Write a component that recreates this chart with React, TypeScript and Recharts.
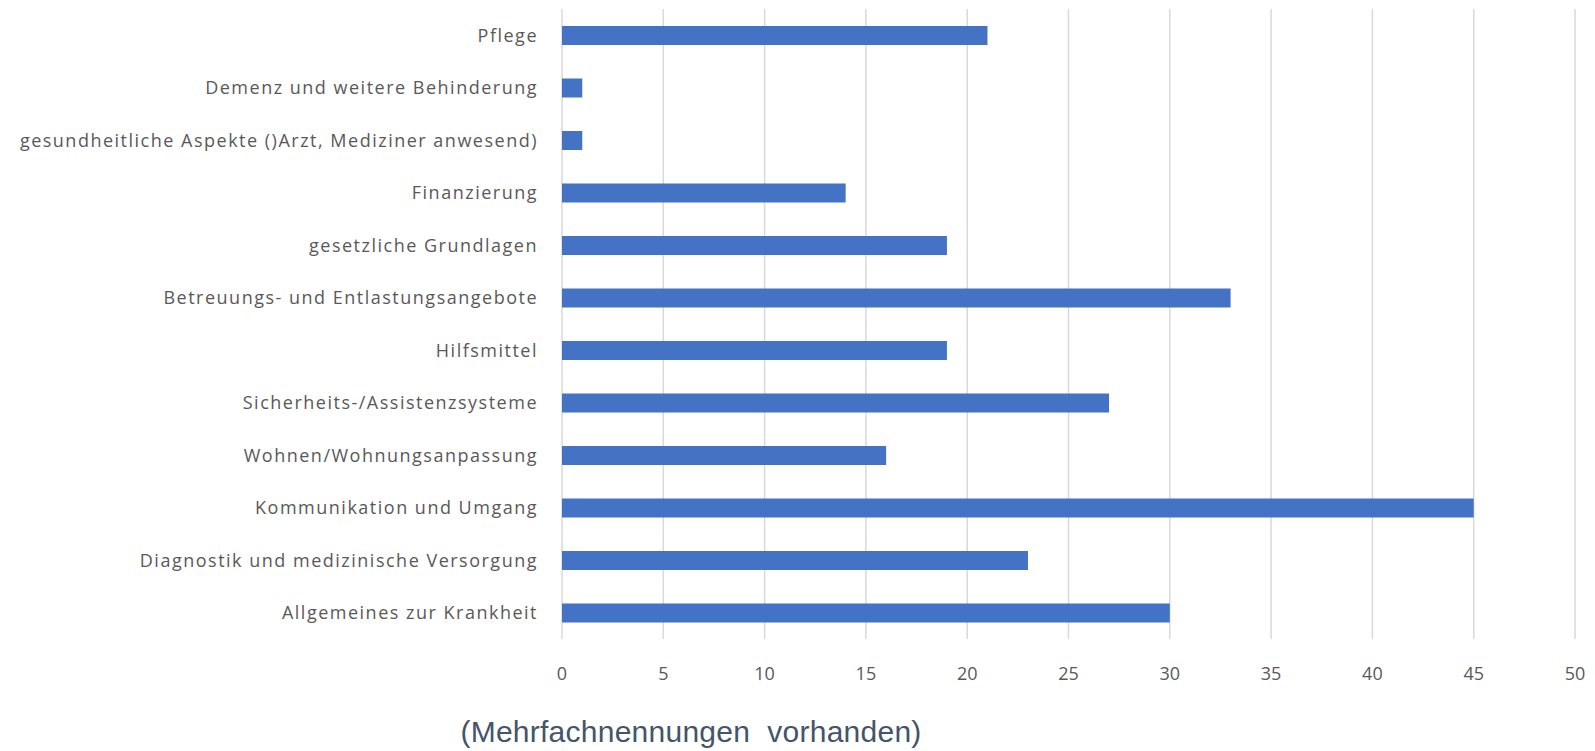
import React from "react";
import { BarChart, Bar, XAxis, YAxis, CartesianGrid } from "recharts";

const categories = [
  "Pflege",
  "Demenz und weitere Behinderung",
  "gesundheitliche Aspekte ()Arzt, Mediziner anwesend)",
  "Finanzierung",
  "gesetzliche Grundlagen",
  "Betreuungs- und Entlastungsangebote",
  "Hilfsmittel",
  "Sicherheits-/Assistenzsysteme",
  "Wohnen/Wohnungsanpassung",
  "Kommunikation und Umgang",
  "Diagnostik und medizinische Versorgung",
  "Allgemeines zur Krankheit",
];
const counts = [21, 1, 1, 14, 19, 33, 19, 27, 16, 45, 23, 30];
const xTicks = [0, 5, 10, 15, 20, 25, 30, 35, 40, 45, 50];
const axisTitle = "(Mehrfachnennungen  vorhanden)";

const data = categories.map((name, i) => ({ name, value: counts[i] }));

export default function App() {
  return (
    <div style={{ position: "absolute", left: 0, top: 0, width: 1595, height: 751, background: "#fff", overflow: "hidden" }}>
      <BarChart
        width={1595}
        height={751}
        data={data}
        layout="vertical"
        margin={{ top: 9, right: 20, bottom: 72, left: 0 }}
        barCategoryGap={0}
      >
        <CartesianGrid horizontal={false} vertical={true} stroke="#d9d9d9" strokeWidth={1.5} />
        <XAxis
          type="number"
          domain={[0, 50]}
          ticks={xTicks}
          interval={0}
          axisLine={false}
          tickLine={false}
          height={40}
          tick={{ fill: "#595959", fontSize: 18, fontFamily: "Open Sans" }}
          tickMargin={22}
        />
        <YAxis
          type="category"
          dataKey="name"
          width={562}
          axisLine={false}
          tickLine={false}
          interval={0}
          tickMargin={18}
          tick={{ fill: "#595959", fontSize: 18, fontFamily: "Open Sans", letterSpacing: 1.5 }}
        />
        <Bar dataKey="value" fill="#4472C4" barSize={19} isAnimationActive={false} />
      </BarChart>
      <div
        style={{
          position: "absolute",
          left: 691,
          top: 717,
          transform: "translateX(-50%)",
          whiteSpace: "pre",
          fontFamily: "Liberation Sans",
          fontSize: 30,
          letterSpacing: 0.25,
          color: "#44546A",
          lineHeight: "30px",
        }}
      >
        {axisTitle}
      </div>
    </div>
  );
}
